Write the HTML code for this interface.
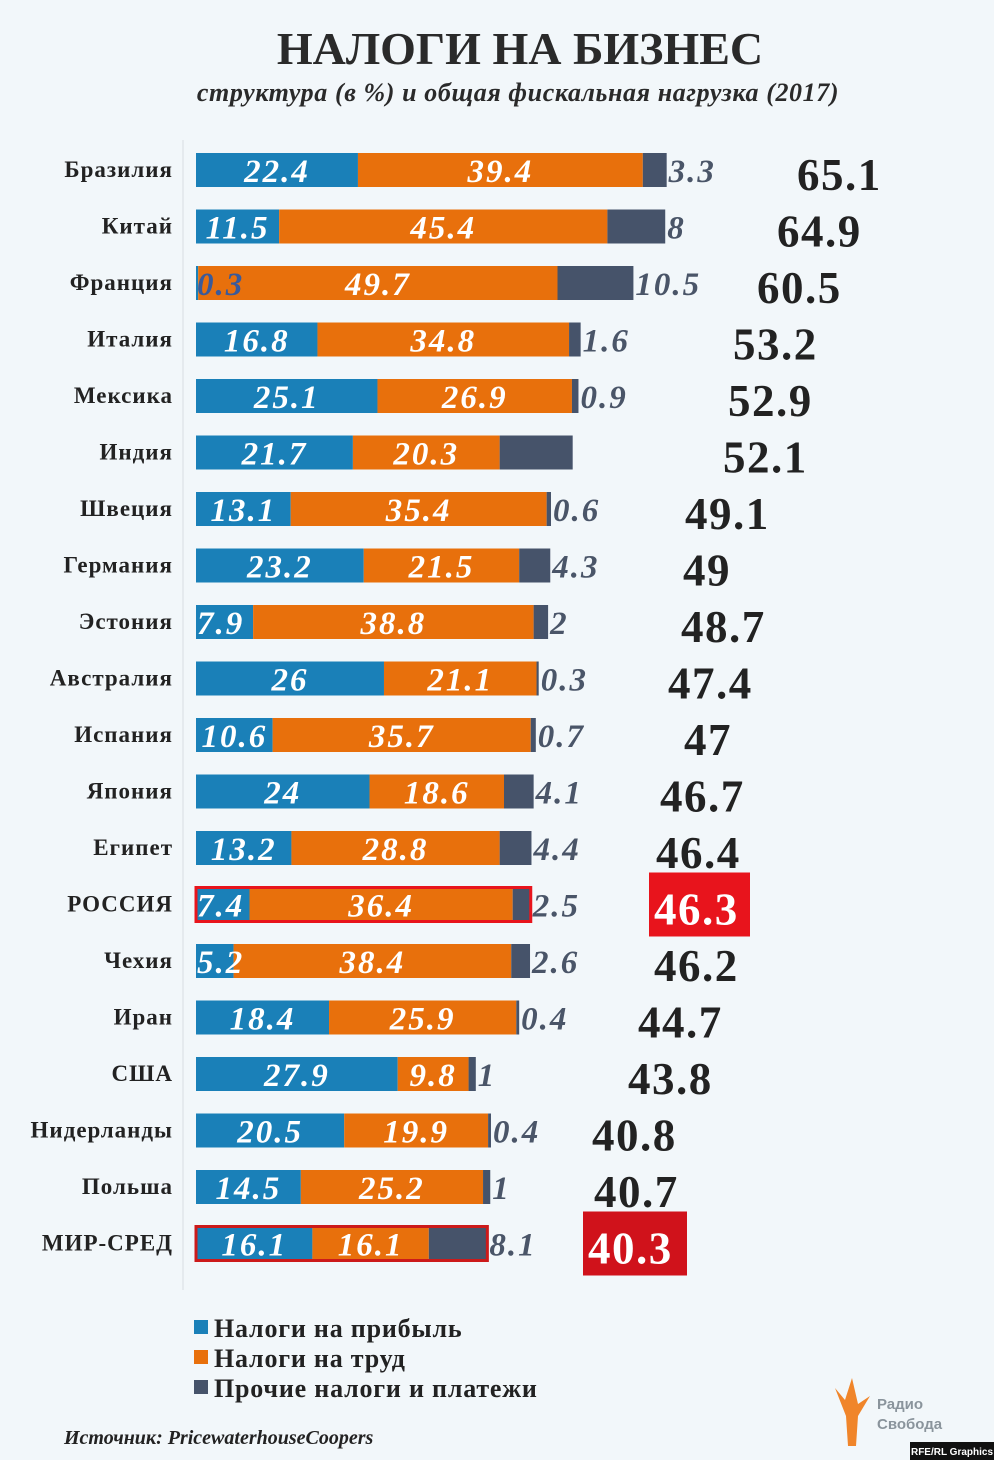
<!DOCTYPE html>
<html><head><meta charset="utf-8"><style>
body{margin:0;background:#f2f7fa;}
svg{display:block;font-family:"Liberation Serif","DejaVu Serif",serif;}
</style></head><body>
<svg id="chart" width="994" height="1460" viewBox="0 0 994 1460">
<rect x="0" y="0" width="994" height="1460" fill="#f2f7fa"/>
<text x="520" y="64" text-anchor="middle" font-size="46" font-weight="bold" fill="#2a2a2a">НАЛОГИ НА БИЗНЕС</text>
<text x="518" y="101" text-anchor="middle" font-size="26" font-weight="bold" font-style="italic" letter-spacing="0.6" fill="#2a2a2a">структура (в %) и общая фискальная нагрузка (2017)</text>
<line x1="183" y1="140" x2="183" y2="1290" stroke="#d8dee2" stroke-width="1"/>
<g id="bars"></g>
<g>
<rect x="194" y="1320" width="14" height="14" fill="#1a80b8"/>
<text x="214" y="1337" font-size="26" font-weight="bold" letter-spacing="0.8" fill="#222">Налоги на прибыль</text>
<rect x="194" y="1350" width="14" height="14" fill="#e8700c"/>
<text x="214" y="1367" font-size="26" font-weight="bold" letter-spacing="0.8" fill="#222">Налоги на труд</text>
<rect x="194" y="1380" width="14" height="14" fill="#46536a"/>
<text x="214" y="1397" font-size="26" font-weight="bold" letter-spacing="0.8" fill="#222">Прочие налоги и платежи</text>
</g>
<text x="64" y="1444" font-size="20" font-weight="bold" font-style="italic" fill="#222">Источник: PricewaterhouseCoopers</text>
<g>
<path d="M852 1378 L845 1400 L835 1388 L846 1416 L848 1446 L856 1446 L858 1416 L870 1396 L858 1404 Z" fill="#f0852a"/>
<text x="877" y="1409" font-size="15" font-weight="bold" fill="#8a949c" font-family="Liberation Sans, sans-serif">Радио</text>
<text x="877" y="1429" font-size="15" font-weight="bold" fill="#8a949c" font-family="Liberation Sans, sans-serif">Свобода</text>
</g>
<rect x="910" y="1442" width="84" height="18" fill="#111"/>
<text x="952" y="1455" text-anchor="middle" font-size="10" font-weight="bold" fill="#fff" font-family="Liberation Sans, sans-serif">RFE/RL Graphics</text>
</svg>
<script>
const countries=["Бразилия","Китай","Франция","Италия","Мексика","Индия","Швеция","Германия","Эстония","Австралия","Испания","Япония","Египет","РОССИЯ","Чехия","Иран","США","Нидерланды","Польша","МИР-СРЕД"];
const profitTax=[22.4,11.5,0.3,16.8,25.1,21.7,13.1,23.2,7.9,26,10.6,24,13.2,7.4,5.2,18.4,27.9,20.5,14.5,16.1];
const laborTax=[39.4,45.4,49.7,34.8,26.9,20.3,35.4,21.5,38.8,21.1,35.7,18.6,28.8,36.4,38.4,25.9,9.8,19.9,25.2,16.1];
const otherTax=[3.3,8,10.5,1.6,0.9,10.1,0.6,4.3,2,0.3,0.7,4.1,4.4,2.5,2.6,0.4,1,0.4,1,8.1];
const otherLabels=["3.3","8","10.5","1.6","0.9","","0.6","4.3","2","0.3","0.7","4.1","4.4","2.5","2.6","0.4","1","0.4","1","8.1"];
const totals=["65.1","64.9","60.5","53.2","52.9","52.1","49.1","49","48.7","47.4","47","46.7","46.4","46.3","46.2","44.7","43.8","40.8","40.7","40.3"];
const highlight=[13,19];

const NS="http://www.w3.org/2000/svg";
const g=document.getElementById("bars");
const x0=196, k=7.23;
function xs(v){return x0+v*k;}
function ys(i){return 170+i*56.5;}
const totalX=[797,777,757,733,728,723,685,683,681,668,684,660,656,654,654,638,628,592,594,588];
function mk(tag,attrs,parent){const e=document.createElementNS(NS,tag);for(const a in attrs)e.setAttribute(a,attrs[a]);(parent||g).appendChild(e);return e;}
countries.forEach((c,i)=>{
  const cy=ys(i);
  const row=mk("g",{});
  
  
  const lab=mk("text",{x:173,y:cy+7,"text-anchor":"end","font-size":23,"font-weight":"bold","letter-spacing":1,fill:"#222"},row);
  lab.textContent=c;
  
  
  const segs=[[0,profitTax[i],"#1a80b8"],[profitTax[i],laborTax[i],"#e8700c"],[profitTax[i]+laborTax[i],otherTax[i],"#46536a"]];
  segs.forEach((s,j)=>{
    const r=mk("rect",{x:xs(s[0]),y:cy-17,width:s[1]*k,height:34,fill:s[2]},row);
    
    
  });
  [0,1].forEach(j=>{
    const s=segs[j];const w=s[1]*k;const t=mk("text",{y:cy+12,"font-size":33,"font-weight":"bold","font-style":"italic","letter-spacing":2,fill:(i==2&&j==0)?"#3a5a9a":"#fff"},row);
    if(w<70){t.setAttribute("x",xs(s[0])+1);}else{t.setAttribute("x",xs(s[0])+w/2);t.setAttribute("text-anchor","middle");}
    t.textContent=String(s[1]);
    
    
  });
  const end=xs(profitTax[i]+laborTax[i]+otherTax[i]);
  if(otherLabels[i]){
    const t=mk("text",{x:end+2,y:cy+12,"font-size":33,"font-weight":"bold","font-style":"italic","letter-spacing":2,fill:"#4a5568"},row);
    t.textContent=otherLabels[i];
    
    
  }
  const hl=highlight.includes(i);
  if(hl){
    const b=mk("rect",{x:x0,y:cy-17,width:end-x0,height:34,fill:"none",stroke:i==13?"#e8141c":"#cc1a1a","stroke-width":3},row);
    
    
    const bx=mk("rect",{x:totalX[i]-5,y:cy-32,width:i==13?101:104,height:64,fill:i==13?"#e8141c":"#d0121b"},row);
    
    
  }
  const tt=mk("text",{x:totalX[i],y:cy+20,"font-size":45,"font-weight":"bold","letter-spacing":1.5,fill:hl?"#fff":"#222"},row);
  tt.textContent=totals[i];
  
  
});
</script>
</body></html>
